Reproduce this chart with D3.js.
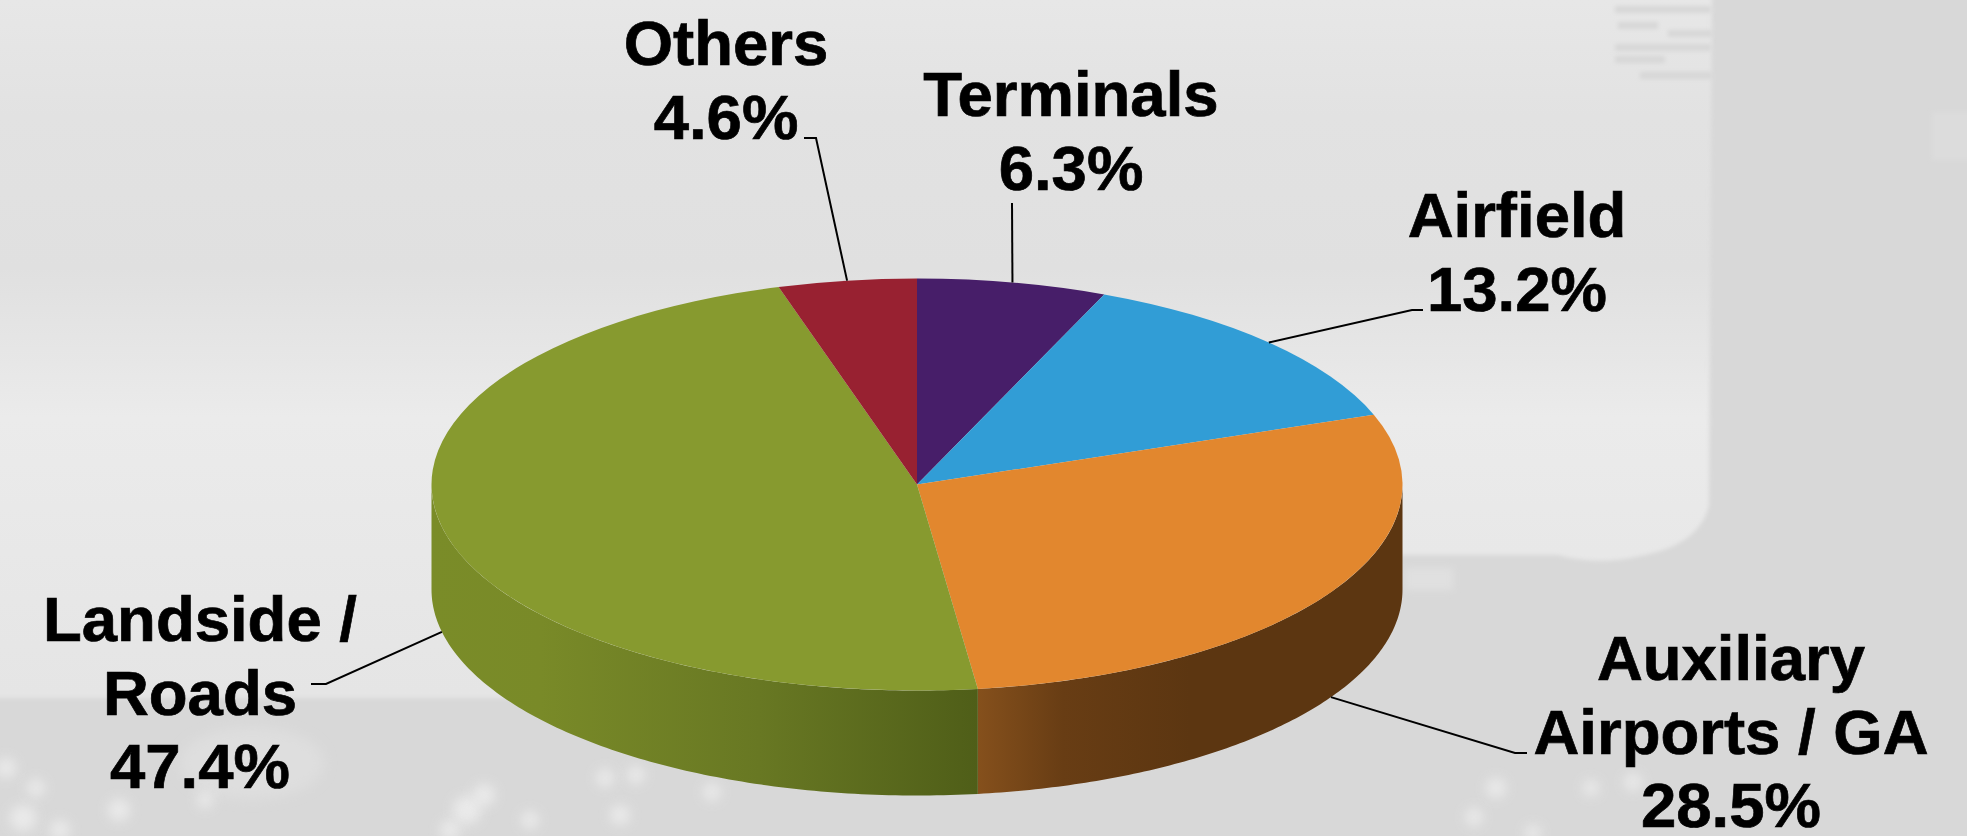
<!DOCTYPE html>
<html>
<head>
<meta charset="utf-8">
<title>Capital program by category</title>
<script src="https://cdn.jsdelivr.net/npm/d3@7"></script>
<style>
  html, body { margin: 0; padding: 0; background: #e4e4e4; overflow: hidden; }
  text { font-family: "Liberation Sans", Arial, sans-serif; font-weight: 700; fill: #000; stroke: #000; stroke-width: 0.7px; }
</style>
</head>
<body>
<div id="chart"></div>
<script>
// Chart values, clockwise from twelve o'clock
var categories = ["Terminals", "Airfield", "Auxiliary Airports / GA", "Landside / Roads", "Others"];
var shares = [6.3, 13.2, 28.5, 47.4, 4.6];
var shareLabels = ["6.3%", "13.2%", "28.5%", "47.4%", "4.6%"];
var labelLines = [["Terminals"], ["Airfield"], ["Auxiliary", "Airports / GA"], ["Landside /", "Roads"], ["Others"]];

// Colours of the top face
var topColors = ["#471e69", "#319dd6", "#e2872e", "#879a2f", "#982131"];

// SVG Dimension settings
var svgWidth = 1967;
var svgHeight = 836;

// Pie geometry
var cx = 917, cy = 484.5, rx = 485.5, ry = 206, depth = 105;

// Where the labels sit and how their leader lines end
var labelPos = [
  { x: 1071, y: 116 },
  { x: 1517, y: 237 },
  { x: 1731, y: 680 },
  { x: 200, y: 641 },
  { x: 726, y: 65 }
];
var leaderEnds = [
  [[1012, 203]],
  [[1412, 310], [1423, 310]],
  [[1515, 753], [1527, 753]],
  [[326, 684], [311, 684]],
  [[816, 138], [804, 138]]
];

var svg = d3.select("#chart")
  .append("svg")
  .attr("width", svgWidth)
  .attr("height", svgHeight)
  .style("display", "block");

var defs = svg.append("defs");

function addGradient(id, x1, x2, stops) {
  var g = defs.append("linearGradient")
    .attr("id", id)
    .attr("gradientUnits", "userSpaceOnUse")
    .attr("x1", x1).attr("x2", x2).attr("y1", 0).attr("y2", 0);
  stops.forEach(s => g.append("stop").attr("offset", s[0]).attr("stop-color", s[1]));
}

// Side walls get darker towards the front
addGradient("wallGreen", cx - rx, cx + 61, [[0, "#7a8c28"], [0.2, "#798a28"], [0.6, "#687823"], [1, "#4f5e18"]]);
addGradient("wallBrown", cx + 61, cx + rx, [[0, "#85501c"], [0.2, "#683d14"], [0.5, "#5c3611"], [1, "#5c3611"]]);

var skyGrad = defs.append("linearGradient").attr("id", "sky").attr("x2", 0).attr("y2", 1);
[[0, "#e7e7e7"], [0.14, "#e2e2e2"], [0.32, "#e0e0e0"], [0.5, "#ebebeb"], [0.66, "#e8e8e8"], [0.83, "#e5e5e5"], [1, "#e5e5e5"]]
  .forEach(s => skyGrad.append("stop").attr("offset", s[0]).attr("stop-color", s[1]));

function addBlur(id, amount) {
  defs.append("filter").attr("id", id)
    .attr("filterUnits", "userSpaceOnUse")
    .attr("x", 0).attr("y", 0).attr("width", svgWidth).attr("height", svgHeight)
    .append("feGaussianBlur").attr("stdDeviation", amount);
}
addBlur("blurS", 2);
addBlur("blurM", 3.5);
addBlur("blurL", 6);

// Faded airport photo behind the chart
var backdrop = svg.append("g");
backdrop.append("rect").attr("width", svgWidth).attr("height", svgHeight).attr("fill", "url(#sky)");

// ground below the horizon, with the tower on the right
backdrop.append("path")
  .attr("d", "M-10,698 L1100,698 L1290,555 L1557,555 Q1600,566 1640,556 Q1700,545 1709,505 L1712,-10 L1977,-10 L1977,846 L-10,846 Z")
  .attr("fill", "#d8d8d8")
  .attr("filter", "url(#blurS)");

// tower stripes at the top right
var stripes = [[1615, 6, 96], [1618, 22, 40], [1668, 30, 44], [1615, 44, 96], [1615, 56, 50], [1640, 72, 72]];
backdrop.selectAll(".stripe").data(stripes).join("rect")
  .attr("class", "stripe")
  .attr("x", d => d[0]).attr("y", d => d[1]).attr("width", d => d[2]).attr("height", 7)
  .attr("fill", "#d7d7d7")
  .attr("filter", "url(#blurS)");
backdrop.append("rect").attr("x", 1932).attr("y", 112).attr("width", 45).attr("height", 48)
  .attr("fill", "#dcdcdc").attr("filter", "url(#blurS)");
backdrop.append("rect").attr("x", 1405).attr("y", 568).attr("width", 48).attr("height", 22)
  .attr("fill", "#e0e0e0").attr("filter", "url(#blurM)");

// ground lights along the bottom edge
var lights = [
  [6, 768, 10], [36, 788, 9], [119, 810, 11], [23, 818, 13], [60, 830, 10], [205, 800, 8],
  [467, 810, 14], [484, 795, 11], [450, 830, 10], [530, 820, 9], [605, 778, 9], [636, 775, 9], [712, 792, 9],
  [620, 815, 10], [1496, 788, 10], [1633, 782, 9], [1591, 788, 8], [1474, 817, 9], [1533, 833, 8]
];
backdrop.append("ellipse").attr("cx", 252).attr("cy", 763).attr("rx", 72).attr("ry", 36)
  .attr("fill", "#dedede").attr("filter", "url(#blurL)");
backdrop.selectAll(".light").data(lights).join("circle")
  .attr("class", "light")
  .attr("cx", d => d[0]).attr("cy", d => d[1]).attr("r", d => d[2])
  .attr("fill", "#f0f0f0")
  .attr("opacity", 0.75)
  .attr("filter", "url(#blurL)");

// Slices, clockwise from the top
var pie = d3.pie().sort(null)(shares);
var arc = d3.arc().innerRadius(0).outerRadius(rx);

// Point on the top rim for a pie angle
function rim(angle) {
  return [cx + rx * Math.sin(angle), cy - ry * Math.cos(angle)];
}

// Only the front half of the rim shows a wall
var wallFill = { 2: "url(#wallBrown)", 3: "url(#wallGreen)" };
var wallLine = d3.line();

var walls = svg.append("g");
pie.forEach((d, i) => {
  if (!wallFill[i]) return;
  var a0 = Math.max(d.startAngle, Math.PI / 2);
  var a1 = Math.min(d.endAngle, Math.PI * 3 / 2);
  var angles = d3.range(0, 121).map(k => a0 + (a1 - a0) * k / 120);
  var upper = angles.map(rim);
  var lower = angles.map(rim).reverse().map(p => [p[0], p[1] + depth]);
  walls.append("path")
    .attr("d", wallLine(upper.concat(lower)) + "Z")
    .attr("fill", wallFill[i]);
});

svg.append("g")
  .attr("transform", `translate(${cx}, ${cy}) scale(1, ${ry / rx})`)
  .selectAll("path")
  .data(pie)
  .join("path")
  .attr("d", arc)
  .attr("fill", (d, i) => topColors[i]);

// Leader lines start at the middle of each slice's outer edge
var leader = d3.line();
svg.append("g")
  .selectAll("path")
  .data(pie)
  .join("path")
  .attr("d", (d, i) => {
    var mid = (d.startAngle + d.endAngle) / 2;
    var p = rim(mid);
    var front = Math.cos(mid) < 0;
    return leader([[p[0], p[1] + (front ? depth : 0)]].concat(leaderEnds[i]));
  })
  .attr("fill", "none")
  .attr("stroke", "#000")
  .attr("stroke-width", 2);

// Labels, name lines then the share
var labels = svg.append("g").attr("text-anchor", "middle").attr("font-size", 63.5);
categories.forEach((c, i) => {
  labelLines[i].concat(shareLabels[i]).forEach((line, k) => {
    labels.append("text")
      .attr("x", labelPos[i].x)
      .attr("y", labelPos[i].y + k * 73.5)
      .text(line);
  });
});
</script>
</body>
</html>
